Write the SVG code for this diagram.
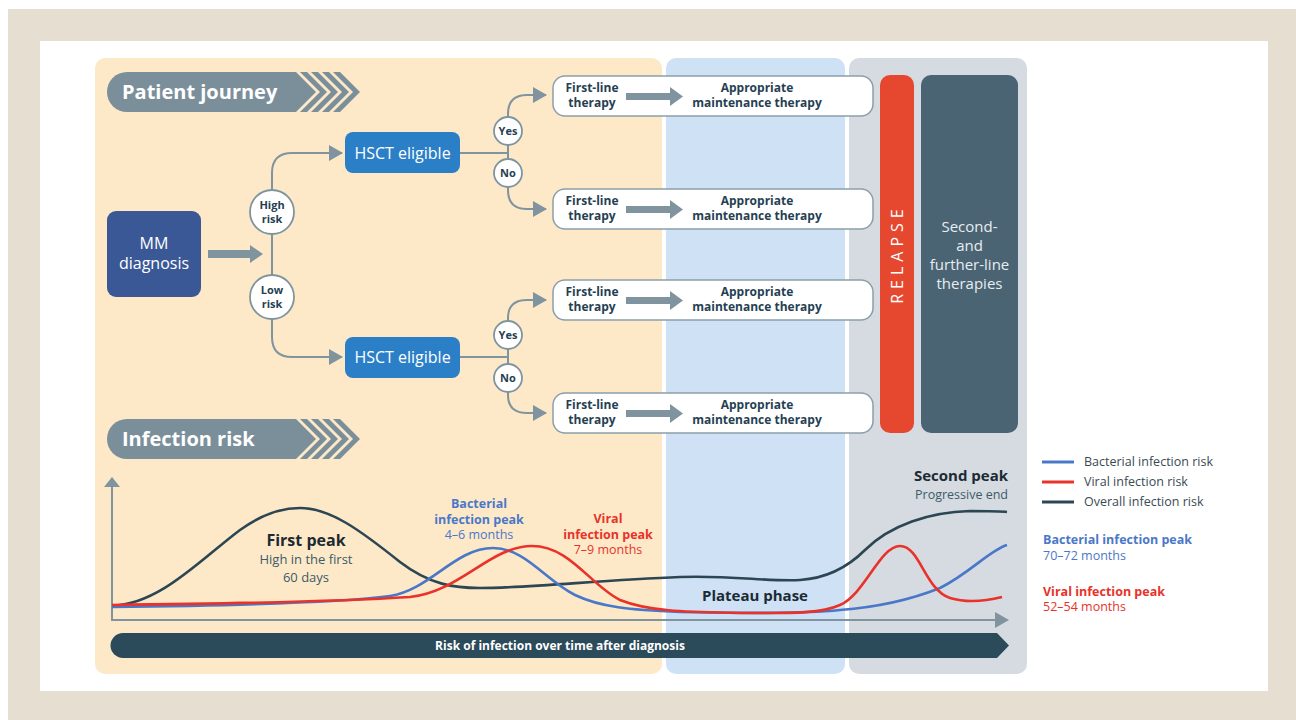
<svg xmlns="http://www.w3.org/2000/svg" width="1296" height="720" viewBox="0 0 1296 720">
<defs>
<style>
text{font-family:"Open Sans","Liberation Sans",sans-serif}
.conn{fill:none;stroke:#7f949f;stroke-width:2}
.circ{fill:#fff;stroke:#7f949f;stroke-width:1.8}
.ct{font-size:11px;font-weight:bold;fill:#263f52;text-anchor:middle}
.tbox{fill:#fff;stroke:#8c9ea9;stroke-width:1.5}
.tt{font-size:12px;font-weight:bold;fill:#263f52;text-anchor:middle}
.blk{fill:#7f949f}
.hdr{fill:#7b8f9b}
.ht{font-size:20px;font-weight:bold;fill:#fff}
.curve{fill:none;stroke-width:2.6}
.lg{font-size:12.5px;fill:#3a4a55}
</style>
<marker id="ah" markerUnits="userSpaceOnUse" markerWidth="14" markerHeight="16" refX="13" refY="8" orient="auto">
<path d="M0,0 L14,8 L0,16 Z" fill="#7f949f"/>
</marker>
</defs>
<rect x="0" y="0" width="1296" height="720" fill="#fff"/>
<rect x="8" y="9" width="1288" height="711" fill="#e6ded1"/>
<rect x="40" y="41" width="1228" height="650" fill="#fff"/>
<rect x="95" y="58" width="567" height="616" rx="10" fill="#fde9c8"/>
<rect x="666" y="58" width="179" height="616" rx="10" fill="#cfe2f5"/>
<rect x="849" y="58" width="178" height="616" rx="10" fill="#d5dbe1"/>

<g id="header-patient-journey">
<path class="hdr" d="M127,72 H296 L316,92 L296,112 H127 A20,20 0 0 1 107,92 A20,20 0 0 1 127,72 Z"/>
<path class="hdr" d="M300,72 h7 l20,20 l-20,20 h-7 l20,-20 Z"/>
<path class="hdr" d="M311,72 h7 l20,20 l-20,20 h-7 l20,-20 Z"/>
<path class="hdr" d="M322,72 h7 l20,20 l-20,20 h-7 l20,-20 Z"/>
<path class="hdr" d="M333,72 h7 l20,20 l-20,20 h-7 l20,-20 Z"/>
<text class="ht" x="122" y="99">Patient journey</text>
</g>

<g id="header-infection-risk">
<path class="hdr" d="M127,419 H296 L316,439 L296,459 H127 A20,20 0 0 1 107,439 A20,20 0 0 1 127,419 Z"/>
<path class="hdr" d="M300,419 h7 l20,20 l-20,20 h-7 l20,-20 Z"/>
<path class="hdr" d="M311,419 h7 l20,20 l-20,20 h-7 l20,-20 Z"/>
<path class="hdr" d="M322,419 h7 l20,20 l-20,20 h-7 l20,-20 Z"/>
<path class="hdr" d="M333,419 h7 l20,20 l-20,20 h-7 l20,-20 Z"/>
<text class="ht" x="122" y="446">Infection risk</text>
</g>

<g id="connectors">
<path class="blk" d="M208,250 H250 V245 L263,254 L250,263 V258 H208 Z"/>
<path class="conn" d="M272,234 V275"/>
<path class="conn" d="M272,190 V173 Q272,153 292,153 H342" marker-end="url(#ah)"/>
<path class="conn" d="M272,318 V337 Q272,357 292,357 H342" marker-end="url(#ah)"/>
<path class="conn" d="M460,153 H508"/>
<path class="conn" d="M508,145 V159"/>
<path class="conn" d="M508,117 V114 Q508,95 527,95 H546" marker-end="url(#ah)"/>
<path class="conn" d="M508,187 V190 Q508,209 527,209 H546" marker-end="url(#ah)"/>
<path class="conn" d="M460,357 H508"/>
<path class="conn" d="M508,349 V364"/>
<path class="conn" d="M508,321 V318 Q508,300 527,300 H546" marker-end="url(#ah)"/>
<path class="conn" d="M508,392 V395 Q508,413 527,413 H546" marker-end="url(#ah)"/>
</g>

<g id="mm-diagnosis">
<rect x="107" y="211" width="94" height="86" rx="9" fill="#3a5896"/>
<text x="154" y="249" font-size="16" fill="#fff" text-anchor="middle">MM</text>
<text x="154" y="269" font-size="16" fill="#fff" text-anchor="middle">diagnosis</text>
</g>

<g id="high-risk">
<circle class="circ" cx="272" cy="212" r="22"/>
<text class="ct" x="272" y="208.5">High</text>
<text class="ct" x="272" y="223">risk</text>
</g>
<g id="low-risk">
<circle class="circ" cx="272" cy="297" r="22"/>
<text class="ct" x="272" y="293.5">Low</text>
<text class="ct" x="272" y="308">risk</text>
</g>

<g id="hsct-1">
<rect x="345" y="132" width="115" height="41" rx="8" fill="#2b7fc7"/>
<text x="402.5" y="159" font-size="16" fill="#fff" text-anchor="middle">HSCT eligible</text>
</g>
<g id="hsct-2">
<rect x="345" y="337" width="115" height="41" rx="8" fill="#2b7fc7"/>
<text x="402.5" y="363" font-size="16" fill="#fff" text-anchor="middle">HSCT eligible</text>
</g>

<g id="yes-1"><circle class="circ" cx="508" cy="131" r="14"/><text class="ct" x="508" y="135">Yes</text></g>
<g id="no-1"><circle class="circ" cx="508" cy="173" r="14"/><text class="ct" x="508" y="177">No</text></g>
<g id="yes-2"><circle class="circ" cx="508" cy="335" r="14"/><text class="ct" x="508" y="339">Yes</text></g>
<g id="no-2"><circle class="circ" cx="508" cy="378" r="14"/><text class="ct" x="508" y="382">No</text></g>

<g id="therapy-1">
<rect class="tbox" x="553" y="76" width="320" height="40" rx="12"/>
<text class="tt" x="592" y="92">First-line</text><text class="tt" x="592" y="107">therapy</text>
<path class="blk" d="M626,93 H670 V87 L683,96.5 L670,106 V100 H626 Z"/>
<text class="tt" x="757" y="92">Appropriate</text><text class="tt" x="757" y="107">maintenance therapy</text>
</g>
<g id="therapy-2">
<rect class="tbox" x="553" y="189" width="320" height="40" rx="12"/>
<text class="tt" x="592" y="205">First-line</text><text class="tt" x="592" y="220">therapy</text>
<path class="blk" d="M626,206 H670 V200 L683,209.5 L670,219 V213 H626 Z"/>
<text class="tt" x="757" y="205">Appropriate</text><text class="tt" x="757" y="220">maintenance therapy</text>
</g>
<g id="therapy-3">
<rect class="tbox" x="553" y="280" width="320" height="40" rx="12"/>
<text class="tt" x="592" y="296">First-line</text><text class="tt" x="592" y="311">therapy</text>
<path class="blk" d="M626,297 H670 V291 L683,300.5 L670,310 V304 H626 Z"/>
<text class="tt" x="757" y="296">Appropriate</text><text class="tt" x="757" y="311">maintenance therapy</text>
</g>
<g id="therapy-4">
<rect class="tbox" x="553" y="393" width="320" height="40" rx="12"/>
<text class="tt" x="592" y="409">First-line</text><text class="tt" x="592" y="424">therapy</text>
<path class="blk" d="M626,410 H670 V404 L683,413.5 L670,423 V417 H626 Z"/>
<text class="tt" x="757" y="409">Appropriate</text><text class="tt" x="757" y="424">maintenance therapy</text>
</g>

<g id="relapse">
<rect x="880" y="75" width="34" height="358" rx="10" fill="#e5472f"/>
<text x="0" y="0" transform="translate(903,254) rotate(-90)" font-size="16" fill="#fff" text-anchor="middle" letter-spacing="5">RELAPSE</text>
</g>
<g id="second-line">
<rect x="921" y="75" width="97" height="358" rx="10" fill="#4a6474"/>
<text x="969.5" y="232" font-size="15" fill="#e8edf0" text-anchor="middle">Second-</text>
<text x="969.5" y="250.5" font-size="15" fill="#e8edf0" text-anchor="middle">and</text>
<text x="969.5" y="269.5" font-size="15" fill="#e8edf0" text-anchor="middle">further-line</text>
<text x="969.5" y="288.5" font-size="15" fill="#e8edf0" text-anchor="middle">therapies</text>
</g>

<g id="chart">
<path d="M112,486 V620 H996" fill="none" stroke="#7f949f" stroke-width="2"/>
<path d="M104,487 L112,477 L120,487 Z" fill="#7f949f"/>
<path d="M995,612 L1009,620 L995,628 Z" fill="#7f949f"/>
<path d="M123,633 H997 L1009,645.5 L997,658 H123 A12.5,12.5 0 0 1 123,633 Z" fill="#2b4a5a"/>
<text x="560" y="650" font-size="12" font-weight="bold" fill="#fff" text-anchor="middle">Risk of infection over time after diagnosis</text>
<path class="curve" stroke="#2c4654" d="M112,606 C160,604 200,560 240,530 C265,512 285,508 300,508 C330,508 360,530 400,562 C430,585 455,588 480,588 C530,588 600,580 680,577 C730,575 770,582 800,580 C830,578 850,565 865,550 C890,525 930,512 970,511 C990,511 1000,511 1007,512"/>
<path class="curve" stroke="#4a78c8" d="M112,607 C200,606 330,604 390,596 C430,590 455,548 493,548 C525,548 545,580 575,595 C600,607 630,610 680,612 C740,613 800,614 840,610 C880,607 910,600 940,588 C970,573 990,550 1007,545"/>
<path class="curve" stroke="#e8322a" d="M112,605 C200,604 330,602 410,597 C460,592 490,546 532,546 C570,546 590,585 620,600 C650,612 690,612 740,613 C790,613 820,614 840,605 C865,594 880,546 900,546 C920,546 925,590 950,598 C970,604 990,600 1002,597"/>
<text x="306" y="546" font-size="16" font-weight="bold" fill="#1c2a33" text-anchor="middle">First peak</text>
<text x="306" y="564" font-size="13" fill="#3c5a6a" text-anchor="middle">High in the first</text>
<text x="306" y="582" font-size="13" fill="#3c5a6a" text-anchor="middle">60 days</text>
<text x="479" y="508" font-size="12.5" font-weight="bold" fill="#4a78c8" text-anchor="middle">Bacterial</text>
<text x="479" y="523.5" font-size="12.5" font-weight="bold" fill="#4a78c8" text-anchor="middle">infection peak</text>
<text x="479" y="539" font-size="12.5" fill="#4a78c8" text-anchor="middle">4–6 months</text>
<text x="608" y="523" font-size="12.5" font-weight="bold" fill="#e8322a" text-anchor="middle">Viral</text>
<text x="608" y="538.5" font-size="12.5" font-weight="bold" fill="#e8322a" text-anchor="middle">infection peak</text>
<text x="608" y="554" font-size="12.5" fill="#e8322a" text-anchor="middle">7–9 months</text>
<text x="755" y="601" font-size="15" font-weight="bold" fill="#1c2a33" text-anchor="middle">Plateau phase</text>
<text x="1008" y="481" font-size="15" font-weight="bold" fill="#1c2a33" text-anchor="end">Second peak</text>
<text x="1008" y="499" font-size="12.5" fill="#3c5a6a" text-anchor="end">Progressive end</text>
</g>

<g id="legend">
<line x1="1042" y1="462" x2="1074" y2="462" stroke="#4a78c8" stroke-width="3"/>
<line x1="1042" y1="482" x2="1074" y2="482" stroke="#e8322a" stroke-width="3"/>
<line x1="1042" y1="502" x2="1074" y2="502" stroke="#2c4654" stroke-width="3"/>
<text class="lg" x="1084" y="466">Bacterial infection risk</text>
<text class="lg" x="1084" y="486">Viral infection risk</text>
<text class="lg" x="1084" y="506">Overall infection risk</text>
<text x="1043" y="544" font-size="12.5" font-weight="bold" fill="#4a78c8">Bacterial infection peak</text>
<text x="1043" y="560" font-size="12.5" fill="#4a78c8">70–72 months</text>
<text x="1043" y="596" font-size="12.5" font-weight="bold" fill="#e8322a">Viral infection peak</text>
<text x="1043" y="611" font-size="12.5" fill="#e8322a">52–54 months</text>
</g>
</svg>
